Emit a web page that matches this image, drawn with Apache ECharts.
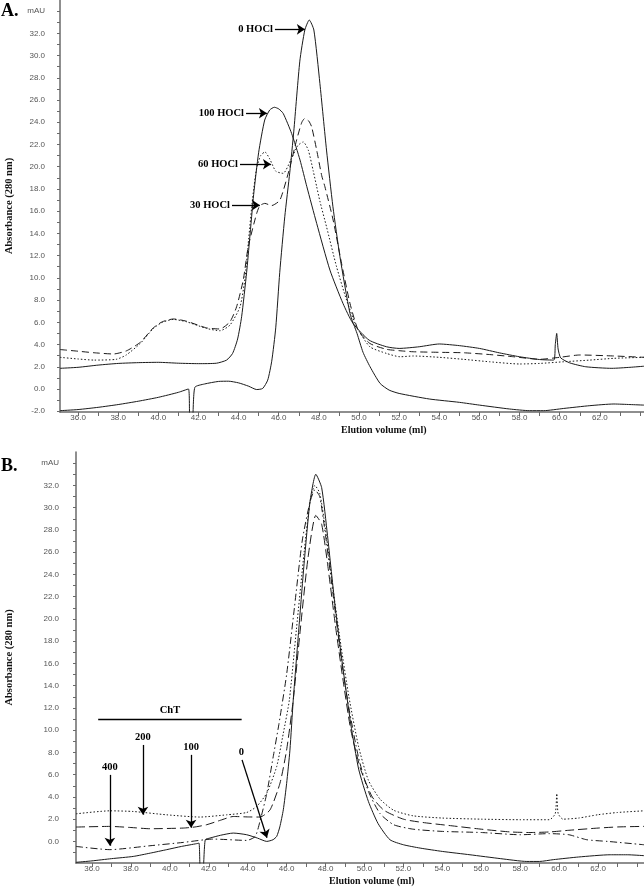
<!DOCTYPE html>
<html><head><meta charset="utf-8">
<script src="https://cdn.jsdelivr.net/npm/echarts@6/dist/echarts.min.js"></script>
<style>html,body{margin:0;padding:0;background:#fff}#c{width:644px;height:889px}</style>
</head><body><div id="c"></div>
<script>
// ---------- Panel A: HOCl-treated samples (x = elution volume ml, y = mAU) ----------
const hocl0 = [[35.1,-1.95],[36,-1.85],[37,-1.65],[38,-1.4],[39,-1.1],[40,-0.75],[41,-0.3],[41.5,0.0],[41.57,-2.6],[41.7,-2.6],[41.82,0.15],[42.3,0.45],[43,0.68],[43.5,0.7],[44,0.55],[44.5,0.25],[44.9,-0.05],[45.2,0.05],[45.45,0.8],[45.65,2.5],[45.85,5.5],[46.05,10.5],[46.3,15.5],[46.55,19.5],[46.75,23.2],[47.05,29.5],[47.3,32.3],[47.52,33.2],[47.75,32.3],[48.05,27.5],[48.38,21.5],[48.7,16.4],[49.05,11.9],[49.55,6.8],[49.9,5.0],[50.2,3.3],[50.55,2.0],[51.05,0.5],[51.5,-0.1],[52,-0.4],[53.5,-0.9],[55,-1.2],[56,-1.45],[57.5,-1.8],[58.5,-1.95],[59.2,-1.95],[60.2,-1.75],[61.5,-1.5],[62.7,-1.35],[63.5,-1.4],[64.2,-1.45]];
const hocl30 = [[35.1,3.55],[36,3.4],[36.8,3.26],[37.76,3.15],[38.42,3.44],[39.1,4.2],[39.75,5.5],[40.2,6.05],[40.75,6.3],[41.4,6.1],[42.4,5.5],[43.07,5.4],[43.57,6.05],[43.9,7.4],[44.23,9.8],[44.48,12.8],[44.9,15.8],[45.06,16.5],[45.31,16.7],[45.64,16.5],[46.06,17.0],[46.56,20.0],[46.89,22.4],[47.15,24.0],[47.3,24.35],[47.5,24.1],[47.64,23.58],[47.89,21.5],[48.14,19.2],[48.3,18.2],[48.71,15.2],[49.13,11.3],[49.55,7.7],[49.96,5.3],[50.54,4.1],[51.37,3.57],[52.04,3.44],[52.7,3.35],[54,3.3],[55.2,3.26],[56.5,3.1],[57.7,2.9],[59,2.67],[60,2.85],[61,3.06],[62.7,2.97],[64.2,2.85]];
const hocl60 = [[35.1,2.85],[36,2.7],[36.8,2.6],[37.9,2.67],[38.4,3.06],[39.1,4.1],[39.75,5.45],[40.2,6.0],[40.75,6.26],[41.4,6.05],[42.4,5.45],[43.07,5.24],[43.57,5.75],[44.07,7.4],[44.32,10.0],[44.5,13.5],[44.7,17.2],[44.9,19.9],[45.1,21.0],[45.31,21.33],[45.55,20.7],[45.85,19.6],[46.22,19.4],[46.6,20.6],[46.95,21.9],[47.22,22.23],[47.47,21.5],[47.72,19.6],[47.89,18.2],[48.05,16.9],[48.38,14.6],[48.88,11.0],[49.38,8.0],[49.88,5.6],[50.54,3.8],[51.37,3.2],[52.04,2.9],[52.7,2.97],[54,2.85],[55.2,2.67],[56.5,2.45],[58,2.25],[59,2.3],[60.2,2.45],[61.5,2.6],[62.7,2.76],[64.2,2.85]];
const hocl100 = [[35.1,1.86],[36,1.95],[37,2.15],[38,2.3],[39,2.37],[40,2.4],[41,2.32],[42,2.28],[42.9,2.32],[43.4,2.6],[43.7,3.2],[43.95,4.5],[44.15,6.5],[44.4,10.5],[44.55,13.5],[44.75,17.5],[45.0,21.3],[45.3,24.2],[45.55,25.1],[45.78,25.35],[46.0,25.2],[46.22,24.8],[46.64,23.0],[47.06,20.6],[47.4,18.2],[47.89,14.9],[48.55,10.7],[49.2,7.7],[49.7,5.9],[50.5,4.4],[51.37,3.8],[52,3.65],[53,3.8],[54,4.05],[55,3.9],[56,3.65],[57,3.25],[58,2.9],[59,2.65],[59.7,2.6],[59.78,4.0],[59.85,5.0],[59.92,3.6],[60.05,2.8],[60.5,2.35],[61.3,2.0],[62.6,1.86],[63.5,1.95],[64.2,2.05]];

// ---------- Panel B: ChT-treated samples ----------
const cht0 = [[35.18,-1.88],[36,-1.75],[37,-1.55],[38.12,-1.35],[39,-1.05],[39.84,-0.74],[40.6,-0.45],[41.38,-0.2],[41.5,-0.15],[41.57,-2.6],[41.7,-2.6],[41.82,0.15],[42.06,0.3],[42.6,0.55],[43.26,0.75],[43.95,0.6],[44.5,0.3],[44.98,0.0],[45.3,0.15],[45.49,0.45],[45.65,1.3],[45.83,2.84],[46.0,5.2],[46.17,8.2],[46.34,12.7],[46.6,18.5],[46.9,25.0],[47.2,30.5],[47.5,33.0],[47.8,31.8],[48.1,27.5],[48.5,21.0],[48.9,15.5],[49.3,10.5],[49.7,6.5],[50.2,3.6],[50.7,1.6],[51.31,0.15],[52.0,-0.3],[52.86,-0.6],[54,-0.9],[55.42,-1.2],[57,-1.55],[58.34,-1.8],[59.0,-1.8],[59.7,-1.64],[61,-1.4],[62.62,-1.2],[63.5,-1.2],[64.36,-1.28]];
const cht100 = [[35.18,1.29],[36.92,1.35],[38,1.25],[38.98,1.14],[40.69,1.2],[41.3,1.3],[41.89,1.5],[42.6,1.9],[43.26,2.24],[44,2.2],[44.63,2.19],[45.15,2.84],[45.66,5.24],[46.0,8.22],[46.34,12.7],[46.7,19],[47.1,25.5],[47.5,29.3],[47.8,28.5],[48.1,25.0],[48.5,19.5],[48.9,14.5],[49.3,10.0],[49.8,6.5],[50.4,4.0],[51,2.8],[52,2.0],[53,1.7],[54.5,1.4],[56,1.1],[57.5,0.85],[58.5,0.8],[59.5,0.85],[60.5,1.0],[62,1.2],[63,1.3],[64.36,1.35]];
const cht200 = [[35.18,2.48],[36.92,2.75],[38.12,2.69],[39.84,2.39],[41.55,2.19],[42.92,2.39],[43.95,2.6],[44.46,3.14],[44.98,4.34],[45.49,6.73],[45.83,9.72],[46.14,12.7],[46.5,19],[46.9,26],[47.2,30.5],[47.45,32.0],[47.7,31.3],[48.0,28.0],[48.4,22.5],[48.8,17.5],[49.2,13.0],[49.7,8.5],[50.2,5.5],[50.8,3.8],[51.5,2.8],[52.5,2.3],[54,2.1],[56,2.0],[58,1.95],[59.5,1.95],[59.8,2.5],[59.88,4.3],[59.95,2.5],[60.2,2.0],[61,2.1],[62,2.4],[63,2.6],[64.36,2.75]];
const cht400 = [[35.18,-0.45],[36.92,-0.74],[38.98,-0.39],[40.69,-0.09],[42.23,0.21],[43.95,0.09],[44.39,0.45],[44.63,1.8],[44.98,4.3],[45.3,7.5],[45.6,10.5],[46.0,15.0],[46.4,21],[46.8,27],[47.2,30.5],[47.45,31.6],[47.7,31.0],[48.0,27.5],[48.4,22],[48.8,16.5],[49.2,12],[49.7,7.5],[50.2,4.5],[50.8,2.5],[51.5,1.5],[52.5,1.1],[54,0.9],[56,0.8],[58,0.6],[59.5,0.7],[60.5,0.6],[61.42,0.15],[62.5,0.0],[64.36,-0.3]];

// ---------- tick labels ----------
const xLabelValues = [36,38,40,42,44,46,48,50,52,54,56,58,60,62];
const xTickValues = [36,37,38,39,40,41,42,43,44,45,46,47,48,49,50,51,52,53,54,55,56,57,58,59,60,61,62,63,64];
const yLabelValues = [-2,0,2,4,6,8,10,12,14,16,18,20,22,24,26,28,30,32,34];
const yTickValues = [-2,-1,0,1,2,3,4,5,6,7,8,9,10,11,12,13,14,15,16,17,18,19,20,21,22,23,24,25,26,27,28,29,30,31,32,33,34];
const yUnitLabel = 'mAU';
const xName = 'Elution volume (ml)';
const yName = 'Absorbance (280 nm)';

// annotations: [text, [x1,y1], [x2,y2]]
const annotA = [['0 HOCl',[45.81,32.36],[47.3,32.36]],['100 HOCl',[44.37,24.81],[45.41,24.81]],['60 HOCl',[44.07,20.22],[45.61,20.22]],['30 HOCl',[43.67,16.54],[45.06,16.54]]];
const annotB = [['200',[38.62,8.67],[38.62,2.4]],['100',[41.09,7.78],[41.09,1.23]],['400',[36.92,5.98],[36.92,-0.39]],['0',[43.71,7.33],[44.99,0.33]]];
const chtBar = ['ChT',[36.32,10.98],[43.69,10.98]];

const serif = 'Liberation Serif, Times New Roman, serif';
const sans = 'Liberation Sans, Arial, sans-serif';
const axisColor = '#6a6a6a';

function xAxisCfg(idx, min, max){
  return {type:'value', gridIndex:idx, min:min, max:max,
    axisLine:{show:true, onZero:false, lineStyle:{color:axisColor, width:1.5}},
    axisTick:{show:true, customValues:xTickValues, length:4, lineStyle:{color:axisColor}},
    axisLabel:{customValues:xLabelValues, formatter:v=>v.toFixed(1), fontSize:8, color:'#555', margin:2, fontFamily:sans},
    splitLine:{show:false}};
}
function yAxisCfg(idx, min, max, gap, margin){
  return {type:'value', gridIndex:idx, min:min, max:max,
    name:yName, nameLocation:'middle', nameGap:gap,
    nameTextStyle:{fontFamily:serif, fontWeight:'bold', fontSize:10.5, color:'#111'},
    axisLine:{show:true, onZero:false, lineStyle:{color:axisColor, width:1.5}},
    axisTick:{show:true, customValues:yTickValues, length:3, lineStyle:{color:axisColor}},
    axisLabel:{customValues:yLabelValues, formatter:v=>v===34?yUnitLabel:v.toFixed(1), fontSize:8, color:'#555', margin:margin, fontFamily:sans},
    splitLine:{show:false}};
}
function lineSeries(data, xi, type, extra){
  return Object.assign({type:'line', data:data, xAxisIndex:xi, yAxisIndex:xi, showSymbol:false, smooth:0.2,
    silent:true, animation:false, clip:true,
    lineStyle:{color:'#1a1a1a', width:1, type:type}}, extra||{});
}
function arrowMark(list){
  return {silent:true, animation:false, symbol:['none','arrow'], symbolSize:8,
    itemStyle:{color:'#000'},
    lineStyle:{color:'#000', width:1.3, type:'solid'},
    label:{show:true, position:'start', distance:2, fontFamily:serif, fontWeight:'bold', fontSize:10.5, color:'#000', formatter:p=>p.name},
    data:list.map(a=>[{name:a[0], coord:a[1]},{coord:a[2]}])};
}

const chart = echarts.init(document.getElementById('c'), null, {renderer:'canvas'});
chart.setOption({
  backgroundColor:'#fff',
  animation:false,
  grid:[{left:60, top:0, right:0, height:412, containLabel:false, outerBoundsMode:'none'},
        {left:76, top:452, right:0, height:411, containLabel:false, outerBoundsMode:'none'}],
  xAxis:[xAxisCfg(0,35.1,64.2), xAxisCfg(1,35.18,64.36)],
  yAxis:[yAxisCfg(0,-2.07,35,45,15), yAxisCfg(1,-1.94,35,61,17)],
  graphic:[
    {type:'text', left:1, top:2, style:{text:'A.', font:'bold 18px '+serif, fill:'#000'}},
    {type:'text', left:1, top:457, style:{text:'B.', font:'bold 18px '+serif, fill:'#000'}},
    {type:'text', left:341, top:425, style:{text:xName, font:'bold 10px '+serif, fill:'#111', textAlign:'center'}},
    {type:'text', left:329, top:876, style:{text:xName, font:'bold 10px '+serif, fill:'#111', textAlign:'center'}}
  ],
  series:[
    lineSeries(hocl0,0,'solid',{markLine:arrowMark(annotA)}),
    lineSeries(hocl30,0,[7,4]),
    lineSeries(hocl60,0,[1.5,2]),
    lineSeries(hocl100,0,'solid'),
    lineSeries(cht0,1,'solid',{markLine:{silent:true, animation:false, symbol:['none','none'],
      lineStyle:{color:'#000', width:1.3, type:'solid'},
      label:{show:true, position:'middle', distance:3, fontFamily:serif, fontWeight:'bold', fontSize:10.5, color:'#000', formatter:p=>p.name},
      data:[[{name:chtBar[0], coord:chtBar[1]},{coord:chtBar[2]}]]}}),
    lineSeries(cht100,1,[9,4]),
    lineSeries(cht200,1,[1.5,2]),
    lineSeries(cht400,1,[7,3,1.5,3],{markLine:arrowMark(annotB)})
  ]
});
</script></body></html>
